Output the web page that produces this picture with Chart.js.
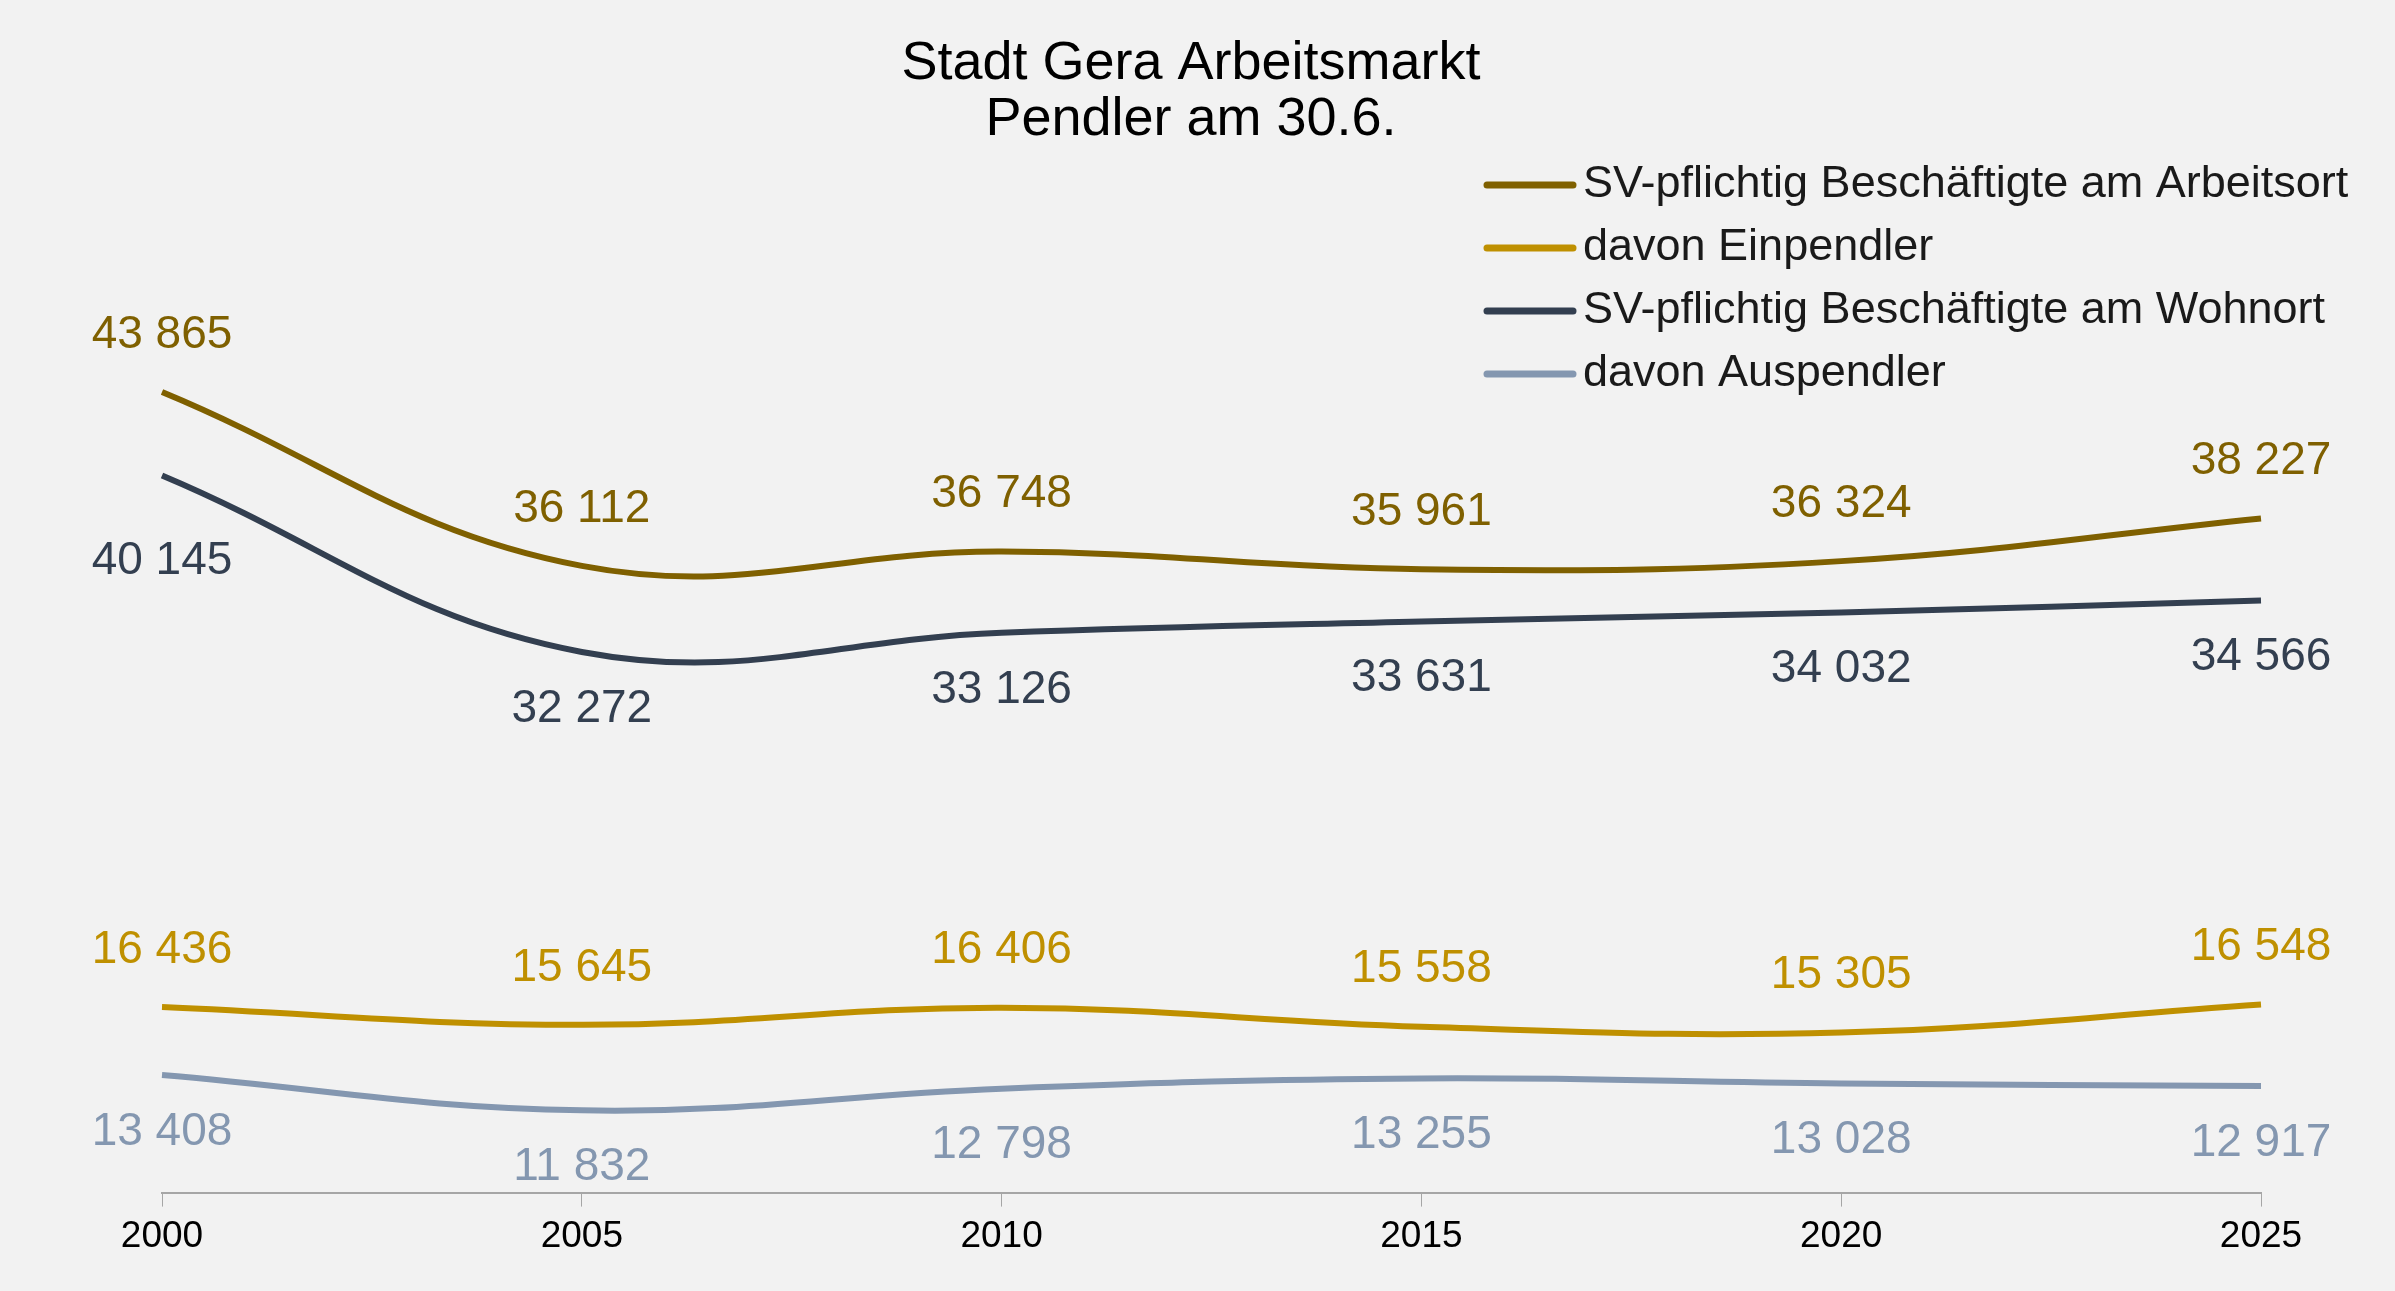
<!DOCTYPE html>
<html><head><meta charset="utf-8">
<script src="https://cdn.jsdelivr.net/npm/chart.js@4/dist/chart.umd.min.js"></script>
<style>html,body{margin:0;background:#f2f2f2;}#w{width:2395px;height:1291px;}</style>
</head><body><div id="w"><canvas id="c"></canvas></div>
<script>
const years = ['2000','2005','2010','2015','2020','2025'];
const arbeitsort = [43865,36112,36748,35961,36324,38227];
const einpendler = [16436,15645,16406,15558,15305,16548];
const wohnort = [40145,32272,33126,33631,34032,34566];
const auspendler = [13408,11832,12798,13255,13028,12917];
const names = ['SV-pflichtig Beschäftigte am Arbeitsort','davon Einpendler','SV-pflichtig Beschäftigte am Wohnort','davon Auspendler'];
const titleLines = ['Stadt Gera Arbeitsmarkt','Pendler am 30.6.'];
const colors = ['#7f6000','#bf9000','#333f50','#8497b0'];
const labelPos = [[-1,-1,-1,-1,-1,-1],[-1,-1,-1,-1,-1,-1],[1.5,1,1,1,1,1],[1,1,1,1,1,1]];
const fmt = v => String(v).replace(/\B(?=(\d{3})+(?!\d))/g,' ');
const F = 'Liberation Sans, Arial, sans-serif';
const labelsPlugin = {
  id:'lbl',
  afterDatasetsDraw(chart){
    const ctx = chart.ctx;
    ctx.save();
    ctx.font = '46px '+F; ctx.textAlign='center'; ctx.textBaseline='middle';
    chart.data.datasets.forEach((ds,i)=>{
      chart.getDatasetMeta(i).data.forEach((p,j)=>{
        ctx.fillStyle = colors[i];
        ctx.fillText(fmt(ds.data[j]), p.x, p.y + labelPos[i][j]*57);
      });
    });
    ctx.fillStyle='#000'; ctx.font='54px '+F;
    ctx.fillText(titleLines[0], 1191, 64);
    ctx.fillText(titleLines[1], 1191, 120);
    ctx.font = '45px '+F; ctx.textAlign='left';
    names.forEach((n,i)=>{
      const y = 185 + i*63;
      ctx.strokeStyle = colors[i]; ctx.lineWidth = 7; ctx.lineCap='round';
      ctx.beginPath(); ctx.moveTo(1487,y); ctx.lineTo(1573,y); ctx.stroke();
      ctx.fillStyle = '#1a1a1a'; ctx.fillText(n, 1583, y);
    });
    ctx.restore();
  }
};
const sets = [arbeitsort,einpendler,wohnort,auspendler];
new Chart(document.getElementById('c'),{
  type:'line',
  data:{labels:years,datasets:sets.map((d,i)=>({label:names[i],data:d,borderColor:colors[i],borderWidth:6,pointRadius:0,tension:0.4,fill:false}))},
  options:{
    responsive:true,maintainAspectRatio:false,animation:false,
    layout:{padding:{left:162,right:134,top:153,bottom:24}},
    plugins:{legend:{display:false},tooltip:{enabled:false}},
    scales:{
      y:{display:false,min:8165,max:54523},
      x:{offset:false,grid:{display:true,drawOnChartArea:false,color:'#a6a6a6',tickLength:14},border:{display:true,color:'#a6a6a6',width:2},
        ticks:{color:'#000',font:{family:F,size:37},padding:8}}
    }
  },
  plugins:[labelsPlugin]
});
</script></body></html>
